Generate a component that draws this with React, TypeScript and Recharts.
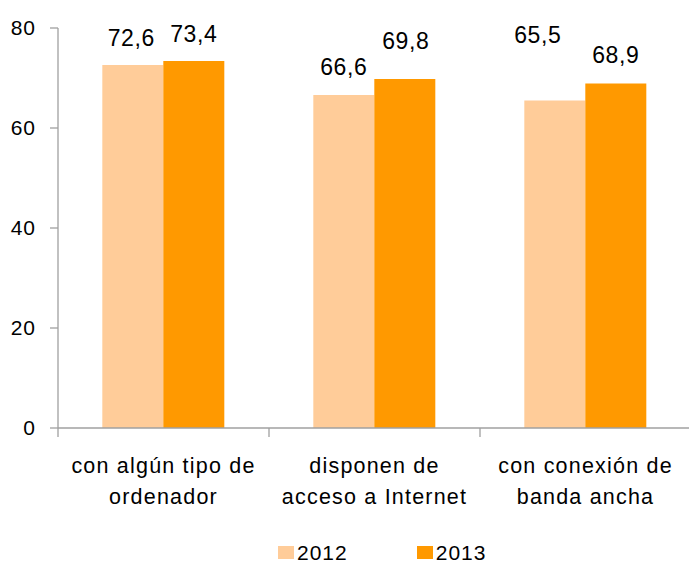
import React from 'react';
import { BarChart, Bar, XAxis, YAxis, LabelList } from 'recharts';

const categories = ['con algún tipo de ordenador', 'disponen de acceso a Internet', 'con conexión de banda ancha'];
const categoryLines = [
  ['con algún tipo de', 'ordenador'],
  ['disponen de', 'acceso a Internet'],
  ['con conexión de', 'banda ancha'],
];
const values2012 = [72.6, 66.6, 65.5];
const values2013 = [73.4, 69.8, 68.9];
const yTicks = [0, 20, 40, 60, 80];
const seriesNames = ['2012', '2013'];

// manual label nudges (as placed in the original chart)
const labelShift2012 = [{ dx: -1.5, dy: -19 }, { dx: 0, dy: -20 }, { dx: -17, dy: -57.5 }];
const labelShift2013 = [{ dx: 0, dy: -19 }, { dx: 1, dy: -30 }, { dx: 0, dy: -20.5 }];

const data = categories.map((c, i) => ({
  category: c,
  y2012: values2012[i],
  y2013: values2013[i],
}));

const FONT = '"Liberation Sans", Arial, sans-serif';
const AXIS = '#a0a0a0';
const C2012 = '#FFCC99';
const C2013 = '#FF9900';

const fmt = (v: number) => v.toFixed(1).replace('.', ',');

const XTick = (props: any) => {
  const { x, y, payload, index } = props;
  const off = payload && payload.offset != null ? payload.offset : props.width / props.visibleTicksCount / 2;
  const lines = categoryLines[index] || [String(payload.value)];
  return (
    <g>
      <line x1={x - off} x2={x - off} y1={y} y2={y + 9} stroke={AXIS} strokeWidth={1.3} />
      {lines.map((l: string, i: number) => (
        <text key={i} x={x} y={y + 45 + 31 * i} textAnchor="middle" fontFamily={FONT} fontSize={21.5} letterSpacing={1.2} fill="#000">
          {l}
        </text>
      ))}
    </g>
  );
};

const makeLabel = (shifts: { dx: number; dy: number }[]) => (props: any) => {
  const { x, y, width, value, index } = props;
  const s = shifts[index] || { dx: 0, dy: -19 };
  return (
    <text x={x + width / 2 + s.dx} y={y + s.dy} textAnchor="middle" fontFamily={FONT} fontSize={23} letterSpacing={0.6} fill="#000">
      {fmt(value)}
    </text>
  );
};

export default function App() {
  return (
    <div style={{ position: 'absolute', left: 0, top: 0, width: 689, height: 563, overflow: 'hidden', background: '#fff' }}>
      <BarChart
        width={700}
        height={563}
        data={data}
        margin={{ top: 28, right: 9, left: 0, bottom: 35 }}
        barCategoryGap="21%"
        barGap={0}
      >
        <XAxis
          dataKey="category"
          height={100}
          tickLine={false}
          tickSize={0}
          tickMargin={0}
          axisLine={{ stroke: AXIS, strokeWidth: 1.3 }}
          tick={<XTick />}
          interval={0}
        />
        <YAxis
          width={58}
          domain={[0, 80]}
          ticks={yTicks}
          tickSize={8}
          tickMargin={14}
          axisLine={{ stroke: AXIS, strokeWidth: 1.3 }}
          tickLine={{ stroke: AXIS, strokeWidth: 1.3 }}
          tick={{ fontFamily: FONT, fontSize: 21, fill: '#000', letterSpacing: 1 }}
        />
        <Bar dataKey="y2012" name={seriesNames[0]} fill={C2012} isAnimationActive={false}>
          <LabelList dataKey="y2012" content={makeLabel(labelShift2012)} />
        </Bar>
        <Bar dataKey="y2013" name={seriesNames[1]} fill={C2013} isAnimationActive={false}>
          <LabelList dataKey="y2013" content={makeLabel(labelShift2013)} />
        </Bar>
      </BarChart>
      <div style={{ position: 'absolute', left: 278, top: 540, height: 23, display: 'flex', alignItems: 'flex-end', fontFamily: FONT, fontSize: 21, letterSpacing: 1, color: '#000', lineHeight: '21px' }}>
        {seriesNames.map((n, i) => (
          <div key={n} style={{ display: 'flex', alignItems: 'center', marginRight: i === 0 ? 69 : 0 }}>
            <span style={{ display: 'inline-block', width: 16, height: 13, background: i === 0 ? C2012 : C2013, marginRight: 3 }} />
            <span>{n}</span>
          </div>
        ))}
      </div>
    </div>
  );
}
